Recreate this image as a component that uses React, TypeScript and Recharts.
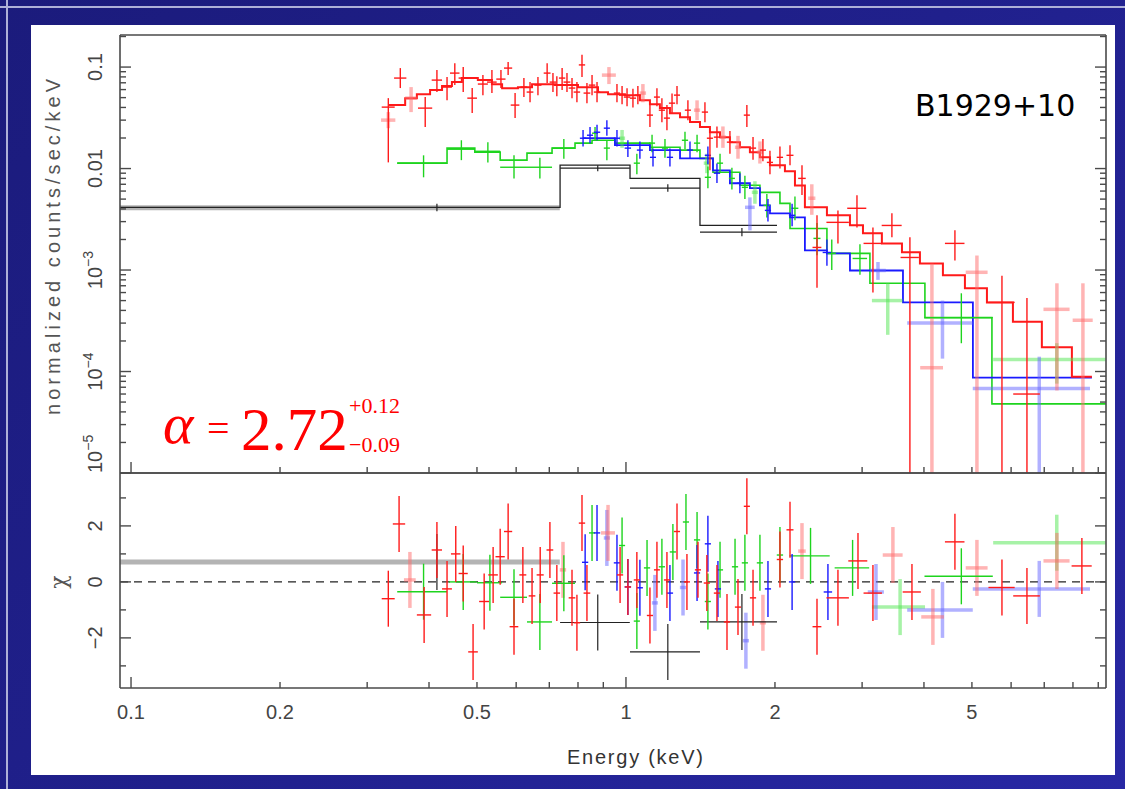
import React from 'react'
import { ComposedChart, Scatter, Line, XAxis, YAxis, ErrorBar, ReferenceLine } from 'recharts'

// spectrum points: [E keV, half bin width keV, counts/s/keV, lower, upper]
const redSpec = [
  [0.331, 0.010, 0.0403, 0.0115, 0.0494], [0.350, 0.010, 0.0779, 0.0621, 0.0977],
  [0.393, 0.013, 0.0394, 0.0256, 0.0506], [0.415, 0.010, 0.0744, 0.0567, 0.0934],
  [0.435, 0.010, 0.0635, 0.0472, 0.0797], [0.451, 0.010, 0.0872, 0.0664, 0.109],
  [0.469, 0.010, 0.0779, 0.0567, 0.100], [0.489, 0.011, 0.0494, 0.0352, 0.0621],
  [0.514, 0.012, 0.0680, 0.0529, 0.0833], [0.536, 0.012, 0.0711, 0.0554, 0.0934],
  [0.559, 0.012, 0.0761, 0.0621, 0.0934], [0.578, 0.011, 0.0977, 0.0833, 0.112],
  [0.597, 0.012, 0.0422, 0.0314, 0.0554], [0.622, 0.010, 0.0635, 0.0506, 0.0779],
  [0.640, 0.010, 0.0567, 0.0451, 0.0711], [0.664, 0.011, 0.0664, 0.0529, 0.0797],
  [0.693, 0.011, 0.0872, 0.0695, 0.109], [0.712, 0.011, 0.0711, 0.0567, 0.0872],
  [0.725, 0.011, 0.0664, 0.0517, 0.0810], [0.743, 0.011, 0.0779, 0.0593, 0.0977],
  [0.760, 0.012, 0.0711, 0.0567, 0.0872], [0.778, 0.012, 0.0621, 0.0494, 0.0779],
  [0.796, 0.012, 0.0567, 0.0451, 0.0711], [0.815, 0.012, 0.105, 0.0797, 0.132],
  [0.834, 0.013, 0.0554, 0.0441, 0.0695], [0.854, 0.013, 0.0664, 0.0529, 0.0833],
  [0.874, 0.013, 0.0567, 0.0451, 0.0711], [0.959, 0.014, 0.0554, 0.0451, 0.0680],
  [0.982, 0.014, 0.0529, 0.0431, 0.0650], [1.005, 0.015, 0.0506, 0.0410, 0.0620],
  [1.033, 0.015, 0.0494, 0.0400, 0.0610], [1.057, 0.015, 0.0529, 0.0431, 0.0650],
  [1.118, 0.016, 0.0336, 0.0256, 0.0441], [1.155, 0.016, 0.0506, 0.0410, 0.0620],
  [1.182, 0.017, 0.0376, 0.0286, 0.0494], [1.210, 0.017, 0.0314, 0.0239, 0.0422],
  [1.239, 0.018, 0.0441, 0.0352, 0.0550], [1.268, 0.018, 0.0529, 0.0431, 0.0650],
  [1.334, 0.019, 0.0376, 0.0300, 0.0470], [1.444, 0.021, 0.0360, 0.0286, 0.0450],
  [1.478, 0.021, 0.0199, 0.0096, 0.0239], [1.527, 0.022, 0.0204, 0.0160, 0.0260],
  [1.622, 0.023, 0.0182, 0.0140, 0.0235], [1.755, 0.025, 0.0336, 0.0256, 0.0422],
  [1.806, 0.026, 0.0159, 0.0122, 0.0205], [1.891, 0.027, 0.0152, 0.0118, 0.0195],
  [1.954, 0.028, 0.0115, 0.0088, 0.0150], [2.047, 0.030, 0.0129, 0.0100, 0.0165],
  [2.145, 0.035, 0.0135, 0.0108, 0.0170], [2.268, 0.040, 0.0080, 0.0055, 0.0108],
  [2.432, 0.050, 0.00167, 0.00067, 0.00346], [2.681, 0.14, 0.00295, 0.00183, 0.00387],
  [2.929, 0.13, 0.00406, 0.00263, 0.00545], [3.155, 0.135, 0.00183, 0.00060, 0.00263],
  [3.446, 0.16, 0.00275, 0.00210, 0.00362], [3.747, 0.16, 0.00133, 0.00001, 0.00210],
  [4.620, 0.21, 0.00183, 0.00124, 0.00246], [5.750, 0.35, 0.00048, 0.00001, 0.00088],
  [6.459, 0.40, 0.00006, 0.00001, 0.00053],
]
const pinkSpec = [
  [0.331, 0.011, 0.0300, 0.0250, 0.0360], [0.368, 0.010, 0.0494, 0.0360, 0.0635],
  [0.924, 0.030, 0.0833, 0.0680, 0.100], [1.082, 0.016, 0.0554, 0.0450, 0.0680],
  [1.392, 0.020, 0.0376, 0.0300, 0.0470], [1.570, 0.022, 0.0204, 0.0160, 0.0260],
  [1.684, 0.024, 0.0162, 0.0125, 0.0210], [1.865, 0.027, 0.0145, 0.0112, 0.0185],
  [2.374, 0.040, 0.0051, 0.0035, 0.0070], [4.151, 0.22, 0.000109, 0.00001, 0.00116],
  [5.118, 0.26, 0.00095, 0.00001, 0.00139], [7.425, 0.45, 0.00041, 0.000065, 0.00074],
  [8.380, 0.39, 0.00032, 0.00001, 0.00074],
]
const greenSpec = [
  [0.390, 0.045, 0.0113, 0.0082, 0.0135], [0.465, 0.030, 0.0155, 0.0121, 0.0190],
  [0.526, 0.031, 0.0148, 0.0115, 0.0182], [0.594, 0.037, 0.0103, 0.0080, 0.0135],
  [0.670, 0.039, 0.0103, 0.0080, 0.0128], [0.749, 0.040, 0.0159, 0.0125, 0.0195],
  [0.866, 0.012, 0.0223, 0.0190, 0.0256], [0.915, 0.013, 0.0159, 0.0121, 0.0190],
  [1.052, 0.015, 0.0113, 0.0088, 0.0140], [1.129, 0.016, 0.0178, 0.0145, 0.0215],
  [1.199, 0.017, 0.0159, 0.0128, 0.0195], [1.316, 0.019, 0.0190, 0.0155, 0.0230],
  [1.392, 0.020, 0.0178, 0.0145, 0.0215], [1.464, 0.021, 0.0082, 0.0064, 0.0105],
  [1.549, 0.022, 0.0113, 0.0090, 0.0140], [1.637, 0.023, 0.0080, 0.0062, 0.0102],
  [1.739, 0.025, 0.00653, 0.0050, 0.0085], [1.926, 0.030, 0.00434, 0.0033, 0.0056],
  [2.195, 0.035, 0.00406, 0.0031, 0.0053], [2.432, 0.040, 0.00205, 0.0014, 0.0029],
  [2.605, 0.050, 0.00146, 0.0010, 0.0020], [2.970, 0.10, 0.00130, 0.0009, 0.0018],
  [4.760, 0.75, 0.00034, 0.00019, 0.00059],
]
const ltGreenSpec = [
  [0.982, 0.014, 0.0199, 0.0160, 0.0240], [1.457, 0.021, 0.0113, 0.0090, 0.0140],
  [1.822, 0.026, 0.00583, 0.0045, 0.0075], [3.380, 0.24, 0.00050, 0.00023, 0.00074],
  [7.420, 1.90, 0.000131, 0.000076, 0.00019],
]
const blueSpec = [
  [0.819, 0.012, 0.0199, 0.0165, 0.0240], [0.846, 0.012, 0.0213, 0.0178, 0.0256],
  [0.874, 0.013, 0.0228, 0.0190, 0.0270], [0.915, 0.013, 0.0250, 0.0210, 0.0300],
  [0.959, 0.014, 0.0199, 0.0165, 0.0240], [1.009, 0.015, 0.0159, 0.0130, 0.0190],
  [1.067, 0.015, 0.0152, 0.0125, 0.0185], [1.134, 0.016, 0.0129, 0.0105, 0.0158],
  [1.227, 0.018, 0.0129, 0.0105, 0.0158], [1.347, 0.019, 0.0152, 0.0125, 0.0185],
  [1.464, 0.021, 0.0135, 0.0110, 0.0165], [1.527, 0.022, 0.0090, 0.0072, 0.0112],
  [1.699, 0.024, 0.00716, 0.0057, 0.0090], [1.936, 0.028, 0.00387, 0.0030, 0.0050],
  [2.166, 0.032, 0.00346, 0.0027, 0.0045], [2.547, 0.050, 0.00149, 0.0011, 0.0020],
]
const ltBlueSpec = [
  [1.780, 0.04, 0.00415, 0.00246, 0.0052], [3.230, 0.12, 0.00099, 0.0008, 0.0012],
  [4.360, 0.66, 0.00030, 0.000134, 0.00050], [6.840, 1.82, 0.000068, 0.00001, 0.00014],
]
const blackSpec = [
  [0.877, 0.141, 0.0101, 0.0094, 0.0108], [1.215, 0.196, 0.0064, 0.0059, 0.0070],
  [1.715, 0.304, 0.00236, 0.00215, 0.0026],
]
const graySpec = [[0.415, 0.320, 0.0041, 0.0038, 0.0045]]

// residuals: [E keV, half bin width keV, chi]
const redRes = [
  [0.331, 0.010, -0.6], [0.348, 0.010, 2.07], [0.391, 0.013, -1.18], [0.415, 0.010, 1.14],
  [0.435, 0.010, -0.25], [0.453, 0.010, 1.0], [0.469, 0.010, 0.3], [0.491, 0.011, -2.5],
  [0.517, 0.012, -0.7], [0.539, 0.012, 0.25], [0.557, 0.012, 0.9], [0.578, 0.011, 1.8],
  [0.594, 0.012, -1.6], [0.619, 0.010, 0.25], [0.646, 0.010, -0.5], [0.671, 0.011, 0.25],
  [0.702, 0.011, 1.14], [0.725, 0.011, -0.4], [0.778, 0.012, -0.57], [0.796, 0.012, -1.46],
  [0.815, 0.012, 2.1], [0.834, 0.013, -0.4], [0.973, 0.014, 0.25], [1.009, 0.015, -0.18],
  [1.052, 0.015, 0.07], [1.118, 0.016, -1.2], [1.155, 0.016, 0.43], [1.210, 0.017, 0.07],
  [1.268, 0.018, 1.8], [1.328, 0.019, 0], [1.398, 0.020, 0.43], [1.457, 0.021, -0.04],
  [1.527, 0.022, -0.4], [1.600, 0.023, -1.43], [1.684, 0.024, -0.9], [1.755, 0.025, 2.7],
  [1.806, 0.026, -0.57], [2.047, 0.030, 0.8], [2.145, 0.035, 1.86], [2.432, 0.050, -1.6],
  [2.681, 0.14, -0.57], [2.943, 0.13, 0.75], [3.155, 0.135, -0.4], [3.783, 0.16, -0.36],
  [4.620, 0.21, 1.43], [5.750, 0.35, -0.2], [6.459, 0.40, -0.5], [8.340, 0.39, 0.57],
]
const pinkRes = [
  [0.366, 0.010, 0.07], [0.746, 0.011, 0.43], [0.920, 0.030, 1.75], [1.891, 0.027, -1.46],
  [2.268, 0.040, 1.1], [3.462, 0.16, 0.96], [4.170, 0.22, -1.25], [5.118, 0.26, 0.5],
  [7.425, 0.45, 0.75],
]
const greenRes = [
  [0.390, 0.045, -0.35], [0.469, 0.030, 0], [0.531, 0.031, -0.03], [0.594, 0.037, -0.55],
  [0.670, 0.039, -1.43], [0.749, 0.040, -0.05], [0.854, 0.012, 1.75], [0.982, 0.014, 1.3],
  [1.052, 0.015, -1.4], [1.103, 0.016, 0.5], [1.182, 0.017, 0.54], [1.244, 0.018, 1.07],
  [1.322, 0.019, 2.14], [1.392, 0.020, 1.5], [1.464, 0.021, -0.7], [1.549, 0.022, 0.43],
  [1.661, 0.024, 0.54], [1.739, 0.025, 0.68], [1.865, 0.027, 0.68], [2.047, 0.030, 0.96],
  [2.360, 0.22, 0.93], [2.870, 0.23, 0.5], [4.760, 0.75, 0.2],
]
const ltGreenRes = [[3.580, 0.44, -0.9], [7.420, 1.90, 1.4]]
const blueRes = [
  [0.827, 0.012, 0.7], [0.874, 0.013, 1.75], [0.959, 0.014, 0.68], [1.009, 0.015, -0.18],
  [1.067, 0.015, -0.21], [1.227, 0.018, -0.4], [1.392, 0.020, 0.32], [1.464, 0.021, 1.36],
  [1.534, 0.022, -0.25], [1.936, 0.028, -0.25], [2.166, 0.032, 0], [2.559, 0.050, -0.36],
]
const ltBlueRes = [
  [0.915, 0.013, 1.57], [1.144, 0.016, -0.75], [1.304, 0.019, -0.2], [1.747, 0.025, -2.1],
  [3.200, 0.12, -0.36], [4.360, 0.66, -1.0], [6.840, 1.82, -0.25],
]
const blackRes = [[0.877, 0.141, -1.45], [1.215, 0.196, -2.5], [1.715, 0.304, -1.43]]
const grayRes = [[0.415, 0.320, 0.71]]

// folded model histograms: bin edges (keV) and values
const redEdges = [0.331, 0.358, 0.378, 0.402, 0.425, 0.445, 0.466, 0.502, 0.536, 0.562, 0.605, 0.646, 0.719, 0.800, 0.878, 0.920, 0.995, 1.067, 1.118, 1.171, 1.227, 1.286, 1.347, 1.411, 1.478, 1.549, 1.622, 1.699, 1.780, 1.865, 1.954, 2.095, 2.195, 2.299, 2.547, 2.835, 3.012, 3.289, 3.611, 3.926, 4.369, 4.840, 5.362, 6.051, 6.923, 7.961, 8.738]
const redModel = [0.0422, 0.0494, 0.0541, 0.0593, 0.0649, 0.0711, 0.0779, 0.0744, 0.0679, 0.0620, 0.0634, 0.0679, 0.0664, 0.0634, 0.0566, 0.0541, 0.0529, 0.0472, 0.0431, 0.0394, 0.0351, 0.0321, 0.0287, 0.0256, 0.0228, 0.0204, 0.0182, 0.0162, 0.0145, 0.0129, 0.0108, 0.0094, 0.0068, 0.00415, 0.00346, 0.00276, 0.00230, 0.00183, 0.00150, 0.00116, 0.00089, 0.00066, 0.00048, 0.00031, 0.000173, 0.000089]
const greenEdges = [0.345, 0.435, 0.495, 0.557, 0.631, 0.709, 0.789, 0.854, 0.950, 1.118, 1.286, 1.411, 1.499, 1.699, 1.865, 2.047, 2.145, 2.547, 3.111, 4.018, 5.488, 9.33]
const greenModel = [0.0113, 0.0159, 0.0145, 0.0121, 0.0142, 0.0159, 0.0178, 0.0190, 0.0178, 0.0162, 0.0152, 0.0126, 0.0092, 0.00684, 0.00583, 0.00454, 0.00257, 0.00146, 0.00074, 0.00034, 0.000048]
const blueEdges = [0.819, 0.950, 1.118, 1.286, 1.499, 1.622, 1.780, 1.865, 1.954, 2.145, 2.299, 2.547, 2.835, 3.628, 5.023, 8.738]
const blueModel = [0.0199, 0.0170, 0.0152, 0.0126, 0.0096, 0.00716, 0.00640, 0.00434, 0.00362, 0.00330, 0.00156, 0.00146, 0.00099, 0.00048, 0.000087]
const blackEdges = [0.095, 0.736, 1.019, 1.411, 2.019]
const blackModel = [0.00415, 0.0108, 0.0080, 0.00276]

// axes
const X_DOMAIN = [0.095, 9.33]
const FLUX_DOMAIN = [1e-5, 0.207]
const CHI_DOMAIN = [-3.79, 3.89]
const xLabelValues = [0.1, 0.2, 0.5, 1, 2, 5]
const fluxLabelValues = [0.1, 0.01, 1e-3, 1e-4, 1e-5]
const chiTicks = [-3, -2, -1, 0, 1, 2, 3]
const chiLabelValues = [-2, 0, 2]

const logTicks = (d0: number, d1: number, max: number) => {
  const out: number[] = []
  for (let d = d0; d <= d1; d++) for (let k = 1; k <= 9; k++) out.push(Number((k * Math.pow(10, d)).toPrecision(2)))
  return out.filter(v => v <= max)
}
const xTicks = logTicks(-1, 0, X_DOMAIN[1])
const fluxTicks = logTicks(-5, -1, FLUX_DOMAIN[1])

const toPts = (rows: number[][]) => rows.map(([e, de, f, lo, hi]) => ({ x: e, y: f, ex: [de, de], ey: [f - lo, hi - f] }))
const toRes = (rows: number[][]) => rows.map(([e, de, c]) => ({ x: e, y: c, ex: [de, de], ey: [1, 1] }))
const toSteps = (edges: number[], vals: number[]) => edges.map((e, i) => ({ x: e, y: vals[Math.min(i, vals.length - 1)] }))

const AX = '#4a4a4a'
const FONT = 'Liberation Sans, Arial, sans-serif'
const RED = '#ff1a1a'
const PINK = 'rgba(255,105,105,0.5)'
const GREEN = '#1ed41e'
const LTGREEN = 'rgba(80,230,80,0.5)'
const BLUE = '#1a1aff'
const LTBLUE = 'rgba(100,100,255,0.5)'
const BLACK = '#222'
const GRAY = '#b4b4b4'
const AS = 10 // axis band size, subtracted from the margins

const isDecade = (v: number) => Math.abs(Math.log10(v) - Math.round(Math.log10(v))) < 1e-9
const isEven = (v: number) => Math.abs(v % 2) < 1e-9

type Side = 'bottom' | 'top' | 'left' | 'right'
const makeTick = (side: Side, major: (v: number) => boolean, label?: (v: number, x: number, y: number) => React.ReactNode) =>
  (p: any) => {
    const v = p.payload.value
    const len = major(v) ? 11 : 6
    const { x, y } = p
    const d = side === 'bottom' ? [x, y, x, y - len]
      : side === 'top' ? [x, y, x, y + len]
      : side === 'left' ? [x, y, x + len, y]
      : [x, y, x - len, y]
    return (
      <g>
        <line x1={d[0]} y1={d[1]} x2={d[2]} y2={d[3]} stroke={AX} strokeWidth={1.4} />
        {label ? label(v, x, y) : null}
      </g>
    )
  }

const xLabel = (v: number, x: number, y: number) =>
  xLabelValues.includes(v) ? (
    <text x={x} y={y + 31} textAnchor="middle" fontSize={20} fill="#444" fontFamily={FONT}>{String(v)}</text>
  ) : null

const fluxLabel = (v: number, x: number, y: number) => {
  if (!fluxLabelValues.includes(v)) return null
  const e = Math.round(Math.log10(v))
  const tx = x - 18
  return (
    <text transform={`rotate(-90 ${tx} ${y})`} x={tx} y={y} textAnchor={e === -5 ? 'start' : 'middle'}
      fontSize={20} fill="#444" fontFamily={FONT}>
      {e >= -2 ? String(v) : <>10<tspan dy={-9} fontSize={14}>{`\u2212${-e}`}</tspan></>}
    </text>
  )
}

const chiLabel = (v: number, x: number, y: number) => {
  if (!chiLabelValues.includes(v)) return null
  const tx = x - 18
  return (
    <text transform={`rotate(-90 ${tx} ${y})`} x={tx} y={y} textAnchor="middle" fontSize={20} fill="#444" fontFamily={FONT}>
      {v < 0 ? `\u2212${-v}` : String(v)}
    </text>
  )
}

const Blank = () => <g />

const crosses = (id: string, rows: any[], color: string, width: number, xColor?: string, xWidth?: number) => (
  <Scatter key={id} name={id} data={rows} xAxisId="b" yAxisId="l" shape={Blank} isAnimationActive={false}>
    <ErrorBar dataKey="ex" direction="x" width={0} stroke={xColor ?? color} strokeWidth={xWidth ?? width} isAnimationActive={false} />
    <ErrorBar dataKey="ey" direction="y" width={0} stroke={color} strokeWidth={width} isAnimationActive={false} />
  </Scatter>
)

const model = (id: string, pts: any[], color: string, width: number) => (
  <Line key={id} data={pts} dataKey="y" xAxisId="b" yAxisId="l" type="stepAfter" stroke={color}
    strokeWidth={width} dot={false} activeDot={false} isAnimationActive={false} />
)

const axisCommon = { tickSize: 0, tickMargin: 0, tickLine: false, interval: 0 as const, allowDataOverflow: true,
  axisLine: { stroke: AX, strokeWidth: 1.6 } }

const xAxes = (labels: boolean) => [
  <XAxis key="xb" xAxisId="b" dataKey="x" type="number" scale="log" domain={X_DOMAIN} ticks={xTicks} height={AS}
    {...axisCommon} tick={makeTick('bottom', isDecade, labels ? xLabel : undefined)} />,
  <XAxis key="xt" xAxisId="t" orientation="top" type="number" scale="log" domain={X_DOMAIN} ticks={xTicks} height={AS}
    {...axisCommon} tick={makeTick('top', isDecade)} />,
]

export default function App() {
  return (
    <div style={{ position: 'absolute', left: 0, top: 0, width: 1125, height: 789, overflow: 'hidden',
      background: 'linear-gradient(135deg, #1b1b7c 0%, #20208c 50%, #2828a4 100%)' }}>
      <div style={{ position: 'absolute', left: 6, top: 0, width: 2, height: 789, background: '#aeb0d8' }} />
      <div style={{ position: 'absolute', left: 0, top: 6, width: 1125, height: 2, background: '#aeb0d8' }} />
      <div style={{ position: 'absolute', left: 31, top: 25, width: 1084, height: 750, background: '#fff' }} />

      <div style={{ position: 'absolute', left: 0, top: 0 }}>
        <ComposedChart width={1125} height={789} margin={{ top: 35 - AS, right: 19 - AS, bottom: 316 - AS, left: 120 - AS }}>
          {xAxes(false)}
          <YAxis yAxisId="l" dataKey="y" type="number" scale="log" domain={FLUX_DOMAIN} ticks={fluxTicks} width={AS}
            {...axisCommon} tick={makeTick('left', isDecade, fluxLabel)} />
          <YAxis yAxisId="r" orientation="right" type="number" scale="log" domain={FLUX_DOMAIN} ticks={fluxTicks} width={AS}
            {...axisCommon} tick={makeTick('right', isDecade)} />
          {crosses('gray', toPts(graySpec), BLACK, 1.2, GRAY, 5)}
          {model('mBlack', toSteps(blackEdges, blackModel), BLACK, 1.3)}
          {model('mGreen', toSteps(greenEdges, greenModel), GREEN, 1.6)}
          {model('mBlue', toSteps(blueEdges, blueModel), BLUE, 1.8)}
          {model('mRed', toSteps(redEdges, redModel), RED, 2)}
          {crosses('ltgreen', toPts(ltGreenSpec), LTGREEN, 3.5)}
          {crosses('ltblue', toPts(ltBlueSpec), LTBLUE, 3.5)}
          {crosses('pink', toPts(pinkSpec), PINK, 3.5)}
          {crosses('black', toPts(blackSpec), BLACK, 1.2)}
          {crosses('green', toPts(greenSpec), GREEN, 1.4)}
          {crosses('blue', toPts(blueSpec), BLUE, 1.4)}
          {crosses('red', toPts(redSpec), RED, 1.4)}
        </ComposedChart>
      </div>

      <div style={{ position: 'absolute', left: 0, top: 0 }}>
        <ComposedChart width={1125} height={789} margin={{ top: 473 - AS, right: 19 - AS, bottom: 101 - AS, left: 120 - AS }}>
          {xAxes(true)}
          <YAxis yAxisId="l" dataKey="y" type="number" domain={CHI_DOMAIN} ticks={chiTicks} width={AS}
            {...axisCommon} tick={makeTick('left', isEven, chiLabel)} />
          <YAxis yAxisId="r" orientation="right" type="number" domain={CHI_DOMAIN} ticks={chiTicks} width={AS}
            {...axisCommon} tick={makeTick('right', isEven)} />
          <ReferenceLine y={0} xAxisId="b" yAxisId="l" stroke={BLACK} strokeWidth={1.3} strokeDasharray="8 6" />
          {crosses('gray', toRes(grayRes), BLACK, 1.2, GRAY, 5)}
          {crosses('ltgreen', toRes(ltGreenRes), LTGREEN, 3.5)}
          {crosses('ltblue', toRes(ltBlueRes), LTBLUE, 3.5)}
          {crosses('pink', toRes(pinkRes), PINK, 3.5)}
          {crosses('black', toRes(blackRes), BLACK, 1.2)}
          {crosses('green', toRes(greenRes), GREEN, 1.4)}
          {crosses('blue', toRes(blueRes), BLUE, 1.4)}
          {crosses('red', toRes(redRes), RED, 1.4)}
        </ComposedChart>
      </div>

      <svg width={1125} height={789} style={{ position: 'absolute', left: 0, top: 0, pointerEvents: 'none' }}>
        <text transform="rotate(-90 60 247)" x={60} y={247} textAnchor="middle" fontSize={20} textLength={336}
          lengthAdjust="spacing" fill="#555" fontFamily={FONT}>normalized counts/sec/keV</text>
        <text transform="rotate(-90 66 582)" x={66} y={582} textAnchor="middle" fontSize={22}
          fill="#555" fontFamily="DejaVu Serif, serif">χ</text>
        <text x={567} y={764} fontSize={20} textLength={136} lengthAdjust="spacing" fill="#333" fontFamily={FONT}>Energy (keV)</text>
        <text x={915} y={116} fontSize={30} fill="#000" fontFamily="DejaVu Sans, sans-serif">B1929+10</text>
        <g fill="#ff0000" fontFamily="Liberation Serif, Times New Roman, serif">
          <text x={163} y={443} fontSize={58} fontStyle="italic">α</text>
          <text x={207} y={442} fontSize={40}>=</text>
          <text x={241} y={450} fontSize={61}>2.72</text>
          <text x={349} y={413} fontSize={22}>+0.12</text>
          <text x={349} y={452} fontSize={22}>−0.09</text>
        </g>
      </svg>
    </div>
  )
}
